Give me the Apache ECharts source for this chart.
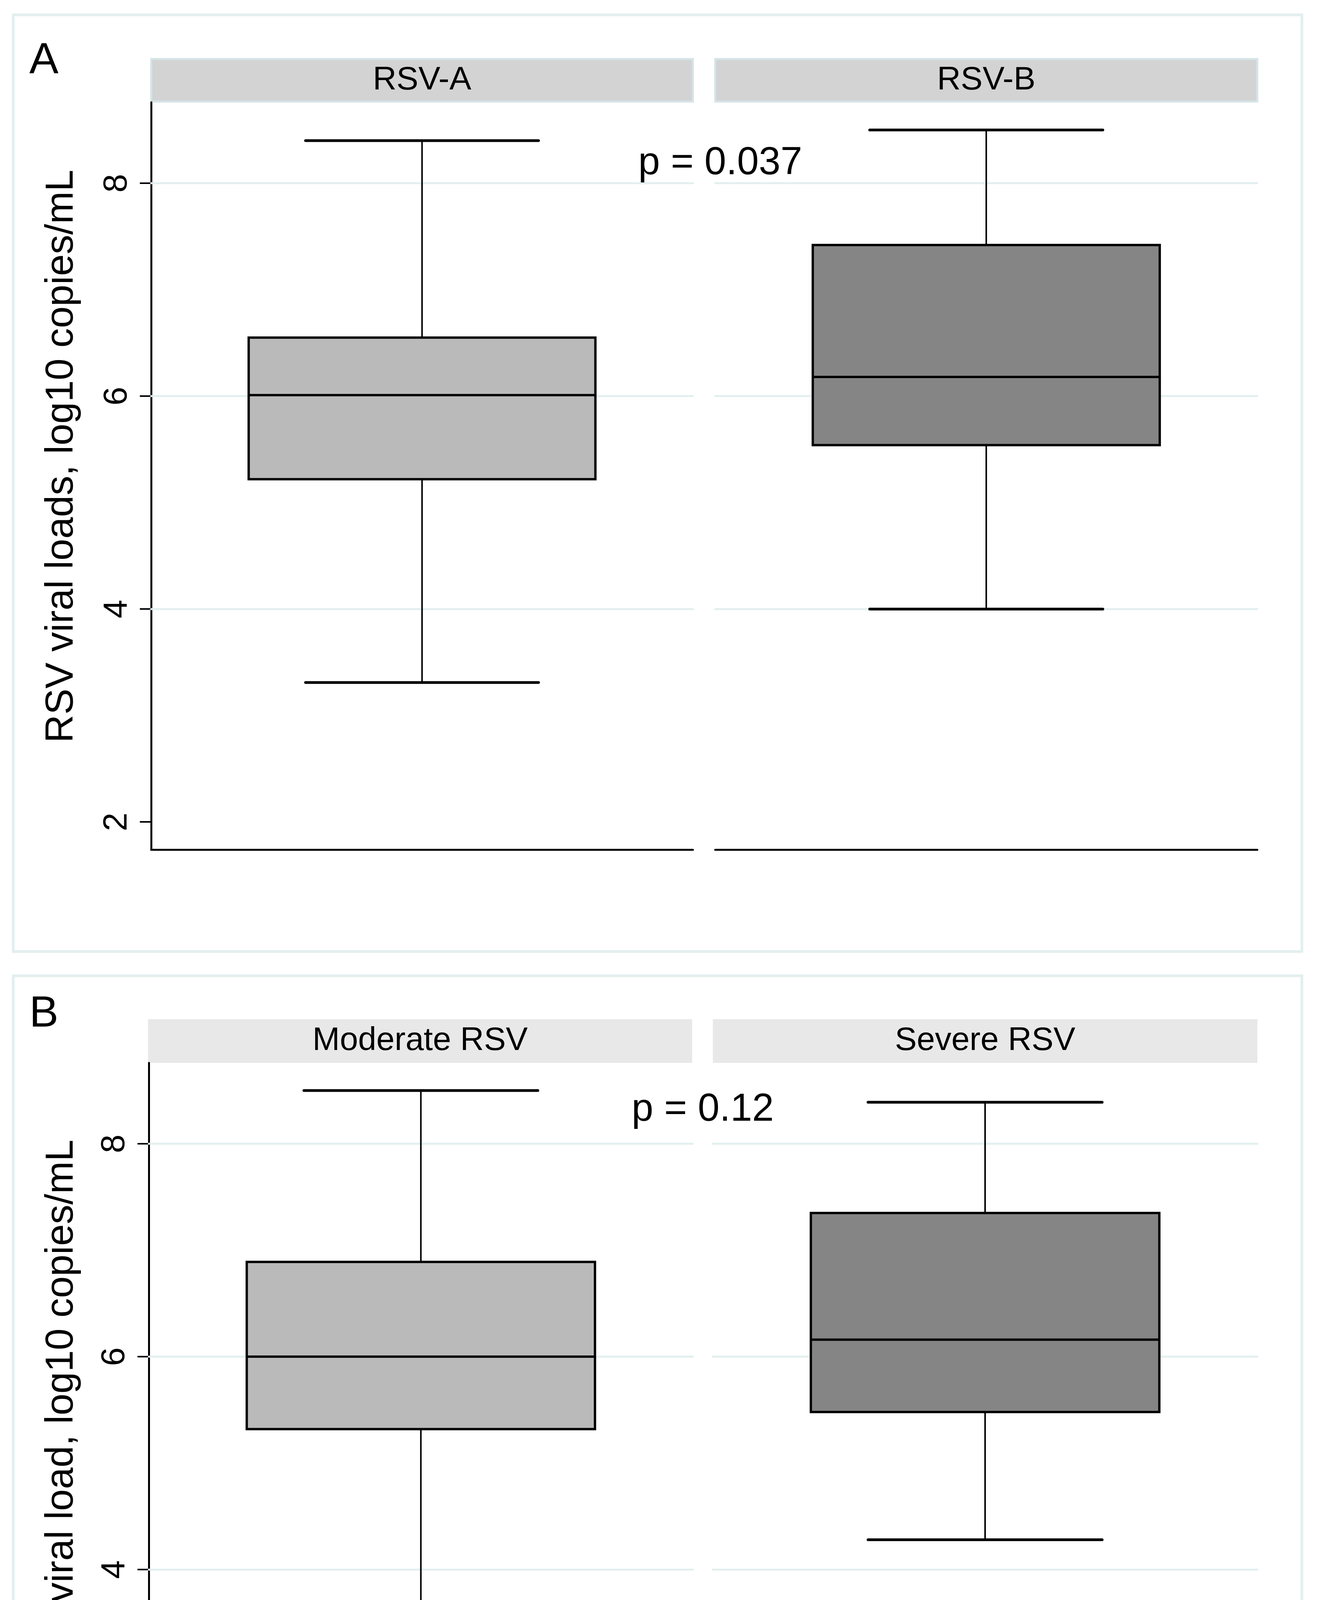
<!DOCTYPE html>
<html lang="en">
<head>
  <meta charset="UTF-8">
  <title>RSV viral load box plots</title>
  <style>
    html, body { margin: 0; padding: 0; background: #fff; }
    #main { width: 3382px; height: 4947px; }
  </style>
</head>
<body>
  <div id="main"></div>
  <script src="https://cdn.jsdelivr.net/npm/echarts@6/dist/echarts.min.js"></script>
  <script>
    // panel A: by subtype
    const groupsA = ['RSV-A', 'RSV-B'];
    const lowA = [3.31, 4.00];
    const q1A = [5.22, 5.54];
    const medA = [6.01, 6.18];
    const q3A = [6.55, 7.42];
    const highA = [8.40, 8.50];

    // panel B: by severity
    const groupsB = ['Moderate RSV', 'Severe RSV'];
    const lowB = [3.31, 4.28];
    const q1B = [5.32, 5.48];
    const medB = [6.00, 6.16];
    const q3B = [6.89, 7.35];
    const highB = [8.50, 8.39];

    const yTicks = [2, 4, 6, 8];
    const gridValues = [4, 6, 8];
    const panelLetters = ['A', 'B'];
    const pLabels = ['p = 0.037', 'p = 0.12'];
    const yTitles = ['RSV viral loads, log10 copies/mL', 'RSV viral load, log10 copies/mL'];

    const FONT = '"Liberation Sans", Arial, Helvetica, sans-serif';
    const boxColors = ['#bababa', '#858585'];
    const paleLine = '#e3efef';

    const panels = [
      {
        groups: groupsA, low: lowA, q1: q1A, med: medA, q3: q3A, high: highA,
        frame: { y: 38, h: 2398 }, letterY: 156, titleY: 1168, pX: 1634, pY: 418,
        strip: { y: 151, h: 109, fill: '#d3d3d3', stroke: '#d6e4e8' },
        cells: [{ left: 387, width: 1387 }, { left: 1831, width: 1388 }],
        top: 262, height: 1913
      },
      {
        groups: groupsB, low: lowB, q1: q1B, med: medB, q3: q3B, high: highB,
        frame: { y: 2498, h: 2397 }, letterY: 2597, titleY: 3626, pX: 1617, pY: 2841,
        strip: { y: 2609, h: 112, fill: '#e8e8e8', stroke: null },
        cells: [{ left: 381, width: 1393 }, { left: 1825, width: 1394 }],
        top: 2721, height: 1913
      }
    ];

    const makeBox = (fill) => function (params, api) {
      const x = api.value(0);
      const pLow = api.coord([x, api.value(1)]);
      const pQ1 = api.coord([x, api.value(2)]);
      const pMed = api.coord([x, api.value(3)]);
      const pQ3 = api.coord([x, api.value(4)]);
      const pHigh = api.coord([x, api.value(5)]);
      const band = api.size([1, 0])[0];
      const bw = band * 0.64;
      const cw = band * 0.43;
      const cx = pMed[0];
      const thin = { stroke: '#000', lineWidth: 4 };
      const cap = { stroke: '#000', lineWidth: 7, lineCap: 'round' };
      return {
        type: 'group',
        children: [
          { type: 'line', shape: { x1: cx, y1: pHigh[1], x2: cx, y2: pQ3[1] }, style: thin },
          { type: 'line', shape: { x1: cx, y1: pQ1[1], x2: cx, y2: pLow[1] }, style: thin },
          { type: 'line', shape: { x1: cx - cw / 2, y1: pHigh[1], x2: cx + cw / 2, y2: pHigh[1] }, style: cap },
          { type: 'line', shape: { x1: cx - cw / 2, y1: pLow[1], x2: cx + cw / 2, y2: pLow[1] }, style: cap },
          {
            type: 'rect',
            shape: { x: cx - bw / 2, y: pQ3[1], width: bw, height: pQ1[1] - pQ3[1] },
            style: { fill: fill, stroke: '#000', lineWidth: 6 }
          },
          { type: 'line', shape: { x1: cx - bw / 2, y1: pMed[1], x2: cx + bw / 2, y2: pMed[1] }, style: { stroke: '#000', lineWidth: 6 } }
        ]
      };
    };

    const renderGridLine = (params, api) => {
      const y = api.coord([0, api.value(1)])[1];
      const cs = params.coordSys;
      return {
        type: 'line',
        shape: { x1: cs.x, y1: y, x2: cs.x + cs.width, y2: y },
        style: { stroke: paleLine, lineWidth: 5, lineCap: 'round' }
      };
    };

    const grid = [], xAxis = [], yAxis = [], series = [], graphic = [];

    panels.forEach((p, pi) => {
      // outer frame of the panel
      graphic.push({
        type: 'rect', silent: true,
        shape: { x: 34, y: p.frame.y, width: 3299, height: p.frame.h },
        style: { fill: 'none', stroke: paleLine, lineWidth: 7 }
      });
      graphic.push({
        type: 'text', silent: true, x: 75, y: p.letterY,
        style: { text: panelLetters[pi], fontSize: 112, fontFamily: FONT, fill: '#000', textAlign: 'left', textVerticalAlign: 'middle' }
      });
      graphic.push({
        type: 'text', silent: true, x: 158, y: p.titleY, rotation: Math.PI / 2,
        style: { text: yTitles[pi], fontSize: 100, fontFamily: FONT, fill: '#000', textAlign: 'center', textVerticalAlign: 'middle' }
      });

      p.cells.forEach((c, ci) => {
        const gi = pi * 2 + ci;
        const stripLeft = ci === 0 && pi === 1 ? c.left - 2 : c.left;
        graphic.push({
          type: 'rect', silent: true,
          shape: { x: stripLeft, y: p.strip.y, width: c.width, height: p.strip.h },
          style: p.strip.stroke
            ? { fill: p.strip.fill, stroke: p.strip.stroke, lineWidth: 5 }
            : { fill: p.strip.fill }
        });
        graphic.push({
          type: 'text', silent: true, x: stripLeft + c.width / 2, y: p.strip.y + p.strip.h / 2,
          style: { text: p.groups[ci], fontSize: 84, fontFamily: FONT, fill: '#000', textAlign: 'center', textVerticalAlign: 'middle' }
        });

        grid.push({ left: c.left, top: p.top, width: c.width, height: p.height, containLabel: false });
        xAxis.push({
          type: 'category', gridIndex: gi, data: [p.groups[ci]], boundaryGap: true,
          axisLine: { show: true, lineStyle: { color: '#000', width: 5 } },
          axisTick: { show: false }, axisLabel: { show: false }, splitLine: { show: false }
        });
        yAxis.push({
          type: 'value', gridIndex: gi, min: 1.74, max: 8.76,
          axisLine: { show: ci === 0, lineStyle: { color: '#000', width: 5 } },
          axisTick: { show: ci === 0, length: 29, customValues: yTicks, lineStyle: { color: '#000', width: 4 } },
          axisLabel: {
            show: ci === 0, customValues: yTicks, rotate: 90, margin: 44,
            fontSize: 86, fontFamily: FONT, color: '#000'
          },
          splitLine: { show: false }
        });

        series.push({
          type: 'custom', xAxisIndex: gi, yAxisIndex: gi, z: 1, silent: true,
          renderItem: renderGridLine,
          encode: { x: 0, y: 1 },
          data: gridValues.map(v => [0, v])
        });
        series.push({
          type: 'custom', name: p.groups[ci], xAxisIndex: gi, yAxisIndex: gi, z: 3,
          renderItem: makeBox(boxColors[ci]),
          encode: { x: 0, y: [1, 2, 3, 4, 5] },
          data: [[0, p.low[ci], p.q1[ci], p.med[ci], p.q3[ci], p.high[ci]]]
        });
      });

      graphic.push({
        type: 'text', silent: true, z: 10, x: p.pX, y: p.pY,
        style: { text: pLabels[pi], fontSize: 100, fontFamily: FONT, fill: '#000', textAlign: 'left', textVerticalAlign: 'middle' }
      });
    });

    const myChart = echarts.init(document.getElementById('main'));
    myChart.setOption({
      backgroundColor: '#fff',
      animation: false,
      grid: grid,
      xAxis: xAxis,
      yAxis: yAxis,
      series: series,
      graphic: graphic
    });
  </script>
</body>
</html>
